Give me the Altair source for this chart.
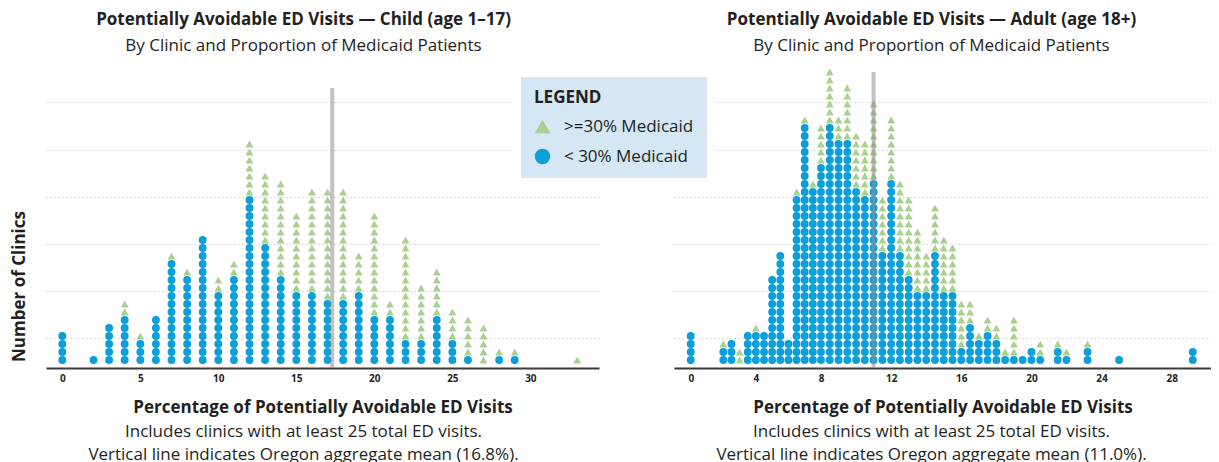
import altair as alt
import pandas as pd

# ---------------- data ----------------
child_bins = list(range(0, 34))
child_blue = [4, 0, 1, 5, 6, 3, 6, 13, 11, 16, 9, 11, 21, 15, 11, 9, 9, 8, 8, 9,
              6, 6, 3, 3, 6, 3, 1, 0, 1, 1, 0, 0, 0, 0]
child_green = [0, 0, 0, 0, 2, 1, 0, 1, 1, 0, 2, 2, 7, 9, 12, 10, 13, 14, 14, 5,
               13, 2, 13, 7, 6, 4, 5, 5, 1, 1, 0, 0, 0, 1]
child_mean = 17.3
child_ticks = [0, 5, 10, 15, 20, 25, 30]

adult_bins = [0, 2.0, 2.5, 3.0, 3.5, 4.0, 4.5, 5.0, 5.5, 6.0, 6.5, 7.0, 7.5, 8.0, 8.5,
              9.0, 9.5, 10.0, 10.5, 11.0, 11.5, 12.0, 12.5, 13.0, 13.5, 14.0, 14.5,
              15.0, 15.5, 16.0, 16.5, 17.0, 17.5, 18.0, 18.5, 19.0, 19.5, 20.0, 20.5,
              21.5, 22.0, 23.2, 25.0, 29.2]
adult_blue = [4, 2, 3, 0, 4, 4, 4, 11, 14, 3, 21, 30, 22, 25, 30, 28, 28, 22, 21, 23,
              14, 23, 14, 11, 9, 9, 14, 9, 9, 2, 5, 3, 4, 3, 1, 1, 1, 2, 1, 2, 1, 2, 1, 2]
adult_green = [0, 1, 0, 2, 0, 1, 0, 0, 0, 0, 1, 1, 1, 5, 7, 3, 7, 7, 7, 10,
               7, 8, 9, 10, 8, 5, 6, 7, 6, 6, 3, 1, 2, 2, 1, 5, 0, 0, 2, 1, 1, 1, 0, 0]
adult_mean = 11.0
adult_ticks = [0, 4, 8, 12, 16, 20, 24, 28]

groups = [">=30% Medicaid", "< 30% Medicaid"]
colors = ["#a9d18e", "#0a9fda"]
shapes = ["triangle-up", "circle"]

FONT = "Open Sans"
DARK = "#231f20"
FS = 17
W1, W2, H = 553, 537, 304
grid_vals = [3.7, 9.6, 15.5, 21.4, 27.3, 33.2]


def expand(bins, blue, green):
    rows = []
    for b, nb, ng in zip(bins, blue, green):
        rows += [{"x": b, "grp": groups[1], "ord": 0}] * nb
        rows += [{"x": b, "grp": groups[0], "ord": 1}] * ng
    return pd.DataFrame(rows)


yscale = alt.Scale(domain=[0, 38], nice=False, zero=False)

legend = alt.Legend(title="LEGEND", orient="none", legendX=471, legendY=9,
                    fillColor="#d5e6f4", strokeColor="white", padding=17,
                    titleFont=FONT, titleFontSize=17,
                    titleFontWeight="bold", titleColor=DARK, titlePadding=11,
                    labelFont=FONT, labelFontSize=17, labelColor=DARK,
                    symbolSize=240, rowPadding=12, labelOffset=13, symbolStrokeWidth=0)


def panel(df, xscale, ticks, width, mean, top, title, subtitle, note2, dx, ytitle):
    common = dict(values=grid_vals, labels=False, ticks=False, domain=False,
                  grid=True, gridDash=[1, 3], gridColor="#b8b8b8", gridWidth=1)
    if ytitle:
        yaxis = alt.Axis(title=ytitle, titleFont=FONT, titleFontSize=17,
                         titleFontWeight="bold", titleColor=DARK, titleAngle=-90,
                         titleX=-27, titleY=222, titleBaseline="middle",
                         titleAlign="center", **common)
    else:
        yaxis = alt.Axis(title=None, **common)
    dots = alt.Chart(df).transform_window(
        rank="row_number()", groupby=["x"], sort=[alt.SortField("ord")]
    ).mark_point(filled=True, opacity=1, size=62).encode(
        x=alt.X("x:Q", scale=xscale,
                axis=alt.Axis(values=ticks, ticks=False, grid=False, domainColor="#3a3a3a",
                              domainWidth=2, labelFont=FONT, labelFontSize=10,
                              labelFontWeight="bold", labelColor=DARK, labelPadding=5,
                              title="Percentage of Potentially Avoidable ED Visits",
                              titleFont=FONT, titleFontSize=FS, titleFontWeight="bold",
                              titleColor=DARK, titlePadding=16)),
        y=alt.Y("rank:Q", scale=yscale, axis=yaxis),
        color=alt.Color("grp:N", scale=alt.Scale(domain=groups, range=colors),
                        legend=legend),
        shape=alt.Shape("grp:N", scale=alt.Scale(domain=groups, range=shapes),
                        legend=legend),
    )
    mdf = pd.DataFrame({"m": [mean], "y0": [0], "top": [top]})
    rule = alt.Chart(mdf).mark_rule(size=4, color="#8f8f8f", opacity=0.55).encode(
        x=alt.X("m:Q", scale=xscale), y=alt.Y("y0:Q", scale=yscale), y2="top:Q")
    t1 = alt.Chart(pd.DataFrame({"t": ["Includes clinics with at least 25 total ED visits."]})
                   ).mark_text(font=FONT, fontSize=FS, color=DARK, baseline="middle").encode(
        text="t:N", x=alt.value(width / 2 + dx), y=alt.value(H + 64))
    t2 = alt.Chart(pd.DataFrame({"t": [note2]})).mark_text(
        font=FONT, fontSize=FS, color=DARK, baseline="middle").encode(
        text="t:N", x=alt.value(width / 2 + dx), y=alt.value(H + 87))
    return alt.layer(dots, rule, t1, t2).properties(
        width=width, height=H,
        title=alt.TitleParams(title, subtitle=subtitle, font=FONT, fontSize=FS,
                              fontWeight="bold", color=DARK, subtitleFont=FONT,
                              subtitleFontSize=FS, subtitleColor=DARK,
                              subtitlePadding=9, anchor="middle", dx=dx, offset=9))


child = panel(expand(child_bins, child_blue, child_green),
              alt.Scale(domain=[-1.045, 34.4], nice=False, zero=False),
              child_ticks, W1, child_mean, 35,
              "Potentially Avoidable ED Visits \u2014 Child (age 1\u201317)",
              "By Clinic and Proportion of Medicaid Patients",
              "Vertical line indicates Oregon aggregate mean (16.8%).", -19,
              "Number of Clinics")
adult = panel(expand(adult_bins, adult_blue, adult_green),
              alt.Scale(domain=[-1.03, 8, 30.24], range=[0, 147, W2], nice=False, zero=False),
              adult_ticks, W2, adult_mean, 37,
              "Potentially Avoidable ED Visits \u2014 Adult (age 18+)",
              "By Clinic and Proportion of Medicaid Patients",
              "Vertical line indicates Oregon aggregate mean (11.0%).", -11, None)

chart = alt.hconcat(child, adult, spacing=75).resolve_scale(
    color="shared", shape="shared").properties(
    padding={"left": 2, "top": 3, "right": 0, "bottom": 0}
).configure_view(stroke=None).configure_legend(strokeWidth=8)

chart.save("out.html", embed_options={"renderer": "svg", "actions": False})
